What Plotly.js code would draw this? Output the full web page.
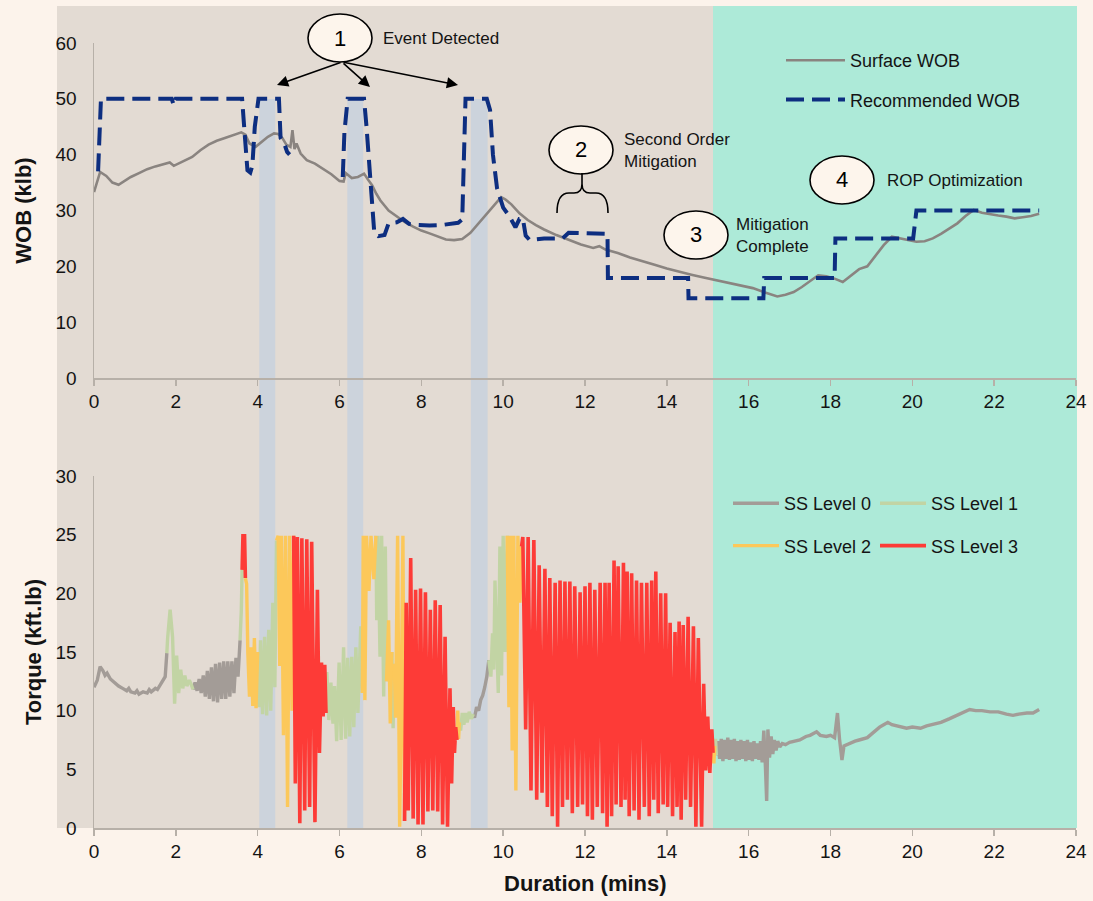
<!DOCTYPE html>
<html><head><meta charset="utf-8">
<script src="https://cdn.plot.ly/plotly-3.0.1.min.js"></script>
<style>html,body{margin:0;padding:0;background:#FCF3EB;}#chart{width:1093px;height:901px;}</style>
</head><body><div id="chart"></div>
<script>
// ---------------- DATA ----------------
const xTicks = [0,2,4,6,8,10,12,14,16,18,20,22,24];

const wobTime = [0,0.05,0.15,0.3,0.45,0.6,0.75,0.9,1.1,1.3,1.5,1.7,1.85,1.95,2.05,2.2,2.4,2.6,2.8,3.0,3.2,3.4,3.6,3.7,3.8,3.95,4.1,4.25,4.4,4.5,4.6,4.7,4.8,4.85,4.9,4.95,5.05,5.2,5.4,5.6,5.8,6.0,6.1,6.15,6.3,6.45,6.6,6.7,6.8,6.9,7.0,7.2,7.4,7.6,7.8,8.0,8.2,8.4,8.6,8.8,9.0,9.2,9.4,9.6,9.8,9.95,10.05,10.2,10.4,10.6,10.8,11.0,11.3,11.6,11.9,12.2,12.35,12.5,12.8,13.1,13.4,13.7,14.0,14.3,14.6,14.9,15.2,15.5,15.8,16.1,16.4,16.7,16.9,17.1,17.3,17.5,17.7,17.9,18.1,18.3,18.5,18.7,18.9,19.1,19.3,19.5,19.7,19.9,20.1,20.3,20.5,20.7,20.9,21.1,21.3,21.5,21.7,21.9,22.1,22.3,22.5,22.7,22.9,23.1];
const surfaceWob = [33.3,34.5,36.9,36.2,35.0,34.6,35.3,36.0,36.7,37.4,37.9,38.3,38.6,38.0,38.4,38.9,39.6,40.8,41.8,42.5,43.0,43.5,44.0,43.6,42.0,41.4,42.3,43.2,43.8,43.7,43.0,41.8,41.4,44.4,41.0,42.0,40.2,39.0,38.4,37.5,36.5,35.3,35.2,36.7,35.8,36.0,36.6,35.5,34.5,33.0,31.8,30.0,28.9,27.9,27.1,26.4,25.9,25.3,24.8,24.7,24.9,26.0,27.7,29.5,31.2,32.4,32.0,31.1,29.5,28.3,27.4,26.6,25.6,24.7,23.9,23.3,23.6,23.0,22.4,21.6,21.0,20.3,19.6,19.0,18.5,18.0,17.5,17.0,16.6,16.1,15.3,14.6,14.9,15.4,16.3,17.4,18.4,18.2,17.8,17.2,18.4,19.5,20.0,21.9,23.8,25.3,25.0,24.7,24.4,24.5,25.0,25.8,26.7,27.7,29.0,30.1,29.6,29.3,29.1,28.9,28.6,28.8,29.0,29.4];

const recTime = [0.1,0.14,0.17,1.9,1.95,2.0,3.62,3.68,3.75,3.82,3.87,3.93,4.02,4.52,4.56,4.65,4.72,4.78,5.0,6.08,6.12,6.2,6.6,6.66,6.75,6.85,6.95,7.1,7.2,7.4,7.55,7.7,7.9,8.2,8.5,8.9,9.0,9.03,9.08,9.6,9.68,9.75,9.85,10.0,10.15,10.3,10.4,10.48,10.55,10.65,11.0,11.45,11.6,12.55,12.56,14.52,14.53,16.36,16.38,18.1,18.12,20.02,20.1,23.1];
const recWob  = [37,45,50,50,48.8,50,50,44,37.2,36.8,38,45,50,50,43,42,40.5,40,null,36,44,50,50,45,35,26,25.4,25.6,27.7,27.9,28.5,27.6,27.4,27.3,27.4,27.8,28.4,40,50,50,48,40,34,30.5,29,27,28.5,28.6,25.5,24.7,25,25,26,25.8,17.9,17.9,14.3,14.3,17.9,17.9,25,25,30,30];

// Torque (kft.lb) vs duration (mins), split by stick-slip level; [null,null] separates segments
const ssLevel0 = [
 [0,12.0],[0.08,12.6],[0.15,13.75],[0.22,13.4],[0.27,13.0],[0.32,13.2],[0.4,12.7],[0.5,12.4],[0.6,12.1],[0.7,11.9],[0.8,11.7],[0.85,11.9],[0.9,11.6],[1.0,11.5],[1.05,11.7],[1.1,11.4],[1.2,11.6],[1.3,11.5],[1.35,11.8],[1.4,11.6],[1.5,11.9],[1.55,11.8],[1.6,12.1],[1.68,12.6],[1.74,12.9],[1.78,14.9],
 [null,null],
 [2.42,11.8],[2.47,12.4],[2.52,11.7],[2.57,12.7],[2.62,11.5],[2.67,13.0],[2.72,11.2],[2.77,13.4],[2.82,11.0],[2.87,13.7],[2.92,10.8],[2.97,14.0],[3.02,10.7],[3.07,14.1],[3.12,11.0],[3.17,14.2],[3.22,11.0],[3.27,14.2],[3.32,11.2],[3.37,14.2],[3.42,11.5],[3.47,14.5],[3.52,12.9],[3.57,16.0],
 [null,null],
 [9.27,9.7],[9.3,9.4],[9.35,10.3],[9.4,10.0],[9.45,10.9],[9.5,11.3],[9.55,12.0],[9.6,12.9],[9.65,14.3],
 [null,null],
 [15.21,6.2],[15.25,7.4],[15.29,5.9],[15.33,7.6],[15.37,5.7],[15.41,7.5],[15.45,5.9],[15.49,7.7],[15.53,5.8],[15.57,7.5],[15.61,5.9],[15.65,7.6],[15.69,5.7],[15.73,7.4],[15.77,5.8],[15.81,7.5],[15.85,5.9],[15.89,7.4],[15.93,5.7],[15.97,7.5],[16.01,5.8],[16.05,7.3],[16.09,5.7],[16.13,7.4],[16.17,5.9],[16.21,7.2],[16.25,5.8],[16.29,7.4],[16.33,5.6],[16.37,8.3],[16.41,5.2],[16.44,2.3],[16.47,8.4],[16.51,6.0],[16.55,7.8],[16.59,6.3],[16.63,7.5],[16.67,6.6],[16.71,7.4],[16.76,6.9],[16.82,7.2],[16.9,7.1],[17.0,7.3],[17.1,7.4],[17.25,7.5],[17.4,7.8],[17.5,7.9],[17.66,8.2],[17.75,7.9],[17.9,7.8],[18.0,7.9],[18.1,7.7],[18.17,9.8],[18.22,7.6],[18.28,5.8],[18.33,7.0],[18.4,7.1],[18.5,7.3],[18.6,7.4],[18.7,7.5],[18.8,7.6],[18.9,7.7],[19.0,8.0],[19.1,8.3],[19.2,8.6],[19.3,8.8],[19.4,9.0],[19.5,8.8],[19.6,8.7],[19.7,8.6],[19.86,8.5],[20.0,8.6],[20.2,8.5],[20.35,8.7],[20.5,8.8],[20.7,9.0],[20.9,9.3],[21.1,9.6],[21.25,9.8],[21.4,10.1],[21.55,10.0],[21.7,10.0],[21.9,9.9],[22.1,9.9],[22.3,9.7],[22.46,9.6],[22.6,9.7],[22.8,9.8],[22.95,9.8],[23.1,10.1]
];
const ssLevel1 = [
 [1.78,14.9],[1.8,16.2],[1.86,18.6],[1.92,16.3],[1.97,10.6],[2.02,14.7],[2.07,11.5],[2.12,13.5],[2.17,11.9],[2.22,13.0],[2.27,12.1],[2.33,12.6],[2.38,12.2],[2.42,11.8],
 [null,null],
 [3.57,16.0],[3.6,18.5],[3.62,22.0],
 [null,null],
 [4.0,15.0],[4.03,10.3],[4.07,16.0],[4.12,9.7],[4.17,16.3],[4.22,9.6],[4.27,16.9],[4.32,10.0],[4.37,19.2],[4.42,12.0],[4.46,24.5],
 [null,null],
 [5.67,9.8],[5.69,13.3],[5.74,9.2],[5.79,12.4],[5.84,8.9],[5.88,12.1],[5.93,7.4],[5.99,14.1],[6.04,7.5],[6.1,15.4],[6.15,7.6],[6.2,14.5],[6.25,7.8],[6.3,14.6],[6.35,8.6],[6.4,15.4],[6.45,9.8],[6.52,17.2],[6.56,11.5],
 [null,null],
 [6.89,24.9],[6.91,17.7],[6.94,24.9],[6.99,14.6],[7.03,24.9],[7.08,11.2],[7.12,24.0],[7.15,12.5],
 [null,null],
 [7.28,15.0],[7.31,8.5],[7.34,14.0],
 [null,null],
 [8.93,9.0],[8.96,8.3],[9.0,9.8],[9.04,8.8],[9.08,9.8],[9.12,9.0],[9.17,9.9],[9.22,9.3],[9.27,9.7],
 [null,null],
 [9.65,14.3],[9.7,12.9],[9.74,16.6],[9.77,13.5],[9.8,21.1],[9.84,15.5],[9.88,11.5],[9.92,24.0],[9.96,13.0],[10.0,24.9],[10.05,15.0],[10.1,24.9],
 [null,null],
 [15.17,7.0],[15.19,7.6],[15.21,6.2]
];
const ssLevel2 = [
 [3.7,21.3],[3.73,20.8],[3.76,14.9],[3.8,11.2],[3.84,15.4],[3.88,10.4],[3.92,16.2],[3.96,10.2],[4.0,15.0],
 [null,null],
 [4.46,24.5],[4.5,24.9],[4.54,13.8],[4.58,24.9],[4.63,7.9],[4.68,24.9],[4.73,1.8],[4.78,24.9],[4.84,10.0],[4.88,24.9],
 [null,null],
 [6.56,11.5],[6.58,24.9],[6.62,10.9],[6.66,24.9],[6.72,20.2],[6.77,24.9],[6.84,21.2],[6.89,24.9],
 [null,null],
 [7.15,12.5],[7.2,17.7],[7.24,8.9],[7.28,15.0],
 [null,null],
 [7.34,14.0],[7.37,9.4],[7.42,24.9],[7.47,0.1],[7.5,8.0],[7.55,24.9],[7.59,0.6],
 [null,null],
 [8.87,7.5],[8.89,10.0],[8.91,7.6],[8.93,9.0],
 [null,null],
 [10.1,24.9],[10.14,10.3],[10.18,24.9],[10.22,6.6],[10.26,24.9],[10.31,3.2],[10.36,24.9],[10.41,19.2],[10.45,24.0],
 [null,null],
 [15.13,6.4],[15.15,5.5],[15.17,7.0]
];
const ssLevel3 = [
 [3.62,22.0],[3.64,24.9],[3.68,24.9],[3.7,21.3],
 [null,null],
 [4.88,24.9],[4.92,3.8],[4.97,24.8],[5.03,0.4],[5.08,24.7],[5.15,1.5],[5.2,24.6],[5.27,1.8],[5.32,24.4],[5.4,0.5],[5.46,20.3],[5.51,6.4],[5.56,14.1],[5.6,9.5],[5.64,13.9],[5.67,9.8],
 [null,null],
 [7.59,0.6],[7.63,19.2],[7.68,1.5],[7.74,23.0],[7.8,0.8],[7.86,20.3],[7.92,0.3],[7.98,20.4],[8.04,0.3],[8.1,20.1],[8.16,1.4],[8.22,18.6],[8.28,1.5],[8.34,19.4],[8.4,1.4],[8.46,19.0],[8.52,0.3],[8.58,16.3],[8.64,0.1],[8.7,11.9],[8.74,3.8],[8.78,10.3],[8.81,6.4],[8.84,8.6],[8.87,7.5],
 [null,null],
 [10.45,24.0],[10.48,24.8],[10.55,8.4],[10.61,24.8],[10.68,3.2],[10.75,24.55],[10.82,2.4],[10.88,22.4],[10.95,3.0],[11.02,22.1],[11.08,1.8],[11.14,21.3],[11.2,1.0],[11.27,20.9],[11.33,0.1],[11.39,21.1],[11.45,1.8],[11.51,21.0],[11.57,2.4],[11.63,21.0],[11.69,1.25],[11.75,20.6],[11.82,1.8],[11.88,20.1],[11.94,2.0],[12.0,20.6],[12.06,1.0],[12.12,20.9],[12.18,0.7],[12.24,20.3],[12.3,1.8],[12.37,20.9],[12.43,1.25],[12.49,20.9],[12.54,0.1],[12.59,20.9],[12.65,1.0],[12.71,22.8],[12.76,2.0],[12.81,22.3],[12.88,1.8],[12.94,22.6],[12.98,2.4],[13.03,21.85],[13.08,1.0],[13.14,21.7],[13.2,1.5],[13.26,21.1],[13.32,0.7],[13.38,20.9],[13.45,1.8],[13.51,20.9],[13.57,1.0],[13.63,21.1],[13.68,2.4],[13.73,21.85],[13.79,1.25],[13.85,20.0],[13.91,2.0],[13.97,20.0],[14.02,1.8],[14.08,17.5],[14.14,1.0],[14.2,16.7],[14.25,1.8],[14.3,17.6],[14.35,0.7],[14.4,17.3],[14.46,2.4],[14.52,18.0],[14.58,1.8],[14.65,17.2],[14.71,0.1],[14.77,16.2],[14.85,0.1],[14.9,12.3],[14.95,4.9],[15.0,9.5],[15.05,4.7],[15.1,8.4],[15.13,6.4]
];

// shaded event windows (mins)
const eventWindows = [[4.04,4.43],[6.19,6.58],[9.21,9.62]];

// ---------------- LAYOUT HELPERS ----------------
const W = 1093, H = 901, ML = 94, MR = 17, MT = 43, MB = 73;
const PW = W - ML - MR, PH = H - MT - MB;
const fx = px => (px - ML) / PW;
const fy = py => (H - MB - py) / PH;
const P = (px, py) => fx(px).toFixed(5) + ',' + fy(py).toFixed(5);
const FONT = 'Liberation Sans, Arial, Helvetica, sans-serif';
const TXT = '#141414';
const AX = '#B7B0A8';

const col = (arr, i) => arr.map(p => p[i]);

const traces = [
  {x: wobTime, y: surfaceWob, type: 'scatter', mode: 'lines', name: 'Surface WOB',
   line: {color: '#8A8480', width: 2.6}, xaxis: 'x', yaxis: 'y', legend: 'legend', legendgroup: 'a'},
  {x: recTime, y: recWob, type: 'scatter', mode: 'lines', name: 'Recommended WOB',
   line: {color: '#0D2E80', width: 4, dash: '18px,8px'}, xaxis: 'x', yaxis: 'y', legend: 'legend', legendgroup: 'b'},
  {x: col(ssLevel0,0), y: col(ssLevel0,1), type: 'scatter', mode: 'lines', name: 'SS Level 0',
   line: {color: '#A39C97', width: 3.4}, xaxis: 'x2', yaxis: 'y2', legend: 'legend2', legendgroup: 'c'},
  {x: col(ssLevel1,0), y: col(ssLevel1,1), type: 'scatter', mode: 'lines', name: 'SS Level 1',
   line: {color: '#C2D4A4', width: 3.4}, xaxis: 'x2', yaxis: 'y2', legend: 'legend3', legendgroup: 'd'},
  {x: col(ssLevel2,0), y: col(ssLevel2,1), type: 'scatter', mode: 'lines', name: 'SS Level 2',
   line: {color: '#FCC85A', width: 3.4}, xaxis: 'x2', yaxis: 'y2', legend: 'legend2', legendgroup: 'e'},
  {x: col(ssLevel3,0), y: col(ssLevel3,1), type: 'scatter', mode: 'lines', name: 'SS Level 3',
   line: {color: '#FD3B37', width: 3.6}, xaxis: 'x2', yaxis: 'y2', legend: 'legend3', legendgroup: 'f'}
];

const shapes = [
  {type: 'rect', xref: 'paper', yref: 'paper', x0: fx(57), x1: fx(713), y0: fy(828), y1: fy(6),
   fillcolor: '#E3DBD3', line: {width: 0}, layer: 'below'},
  {type: 'rect', xref: 'paper', yref: 'paper', x0: fx(713), x1: fx(1077), y0: fy(828), y1: fy(6),
   fillcolor: '#ADEAD8', line: {width: 0}, layer: 'below'}
];
eventWindows.forEach(w => shapes.push({type: 'rect', xref: 'x', yref: 'paper', x0: w[0], x1: w[1],
  y0: 0, y1: fy(99), fillcolor: '#CCD3DC', line: {width: 0}, layer: 'below'}));

const circles = [[340,38,'1'],[581,150,'2'],[696,235,'3'],[842,180,'4']];
circles.forEach(c => shapes.push({type: 'circle', xref: 'paper', yref: 'paper',
  x0: fx(c[0]-32), x1: fx(c[0]+32), y0: fy(c[1]+24), y1: fy(c[1]-24),
  fillcolor: '#FDF5EC', line: {color: '#000', width: 1.6}, layer: 'above'}));

shapes.push({type: 'path', xref: 'paper', yref: 'paper', layer: 'above',
  path: 'M' + P(557,213) + ' Q' + P(557,193) + ' ' + P(569,193) + ' L' + P(574,193) +
        ' Q' + P(582,193) + ' ' + P(582,184) + ' L' + P(582,173) +
        ' M' + P(582,184) + ' Q' + P(582,193) + ' ' + P(590,193) + ' L' + P(596,193) +
        ' Q' + P(608,193) + ' ' + P(608,213),
  line: {color: '#000', width: 1.6}});

const annotations = [];
circles.forEach(c => annotations.push({xref: 'paper', yref: 'paper', x: fx(c[0]), y: fy(c[1]),
  xanchor: 'center', yanchor: 'middle',
  text: c[2], showarrow: false, font: {size: 22, color: '#000', family: FONT}}));
const labels = [
  [381, 38, 'Event Detected'],
  [622, 151, 'Second Order<br>Mitigation'],
  [734, 236, 'Mitigation<br>Complete'],
  [885, 181, 'ROP Optimization']
];
labels.forEach(l => annotations.push({xref: 'paper', yref: 'paper', x: fx(l[0]), y: fy(l[1]),
  xanchor: 'left', yanchor: 'middle', align: 'left', text: l[2], showarrow: false,
  font: {size: 17, color: TXT, family: FONT}}));
[[277,85],[370,87],[458,85]].forEach(a => annotations.push({xref: 'paper', yref: 'paper',
  x: fx(a[0]), y: fy(a[1]), ax: 342 - a[0], ay: 62 - a[1], text: '', showarrow: true,
  arrowhead: 2, arrowsize: 1.4, arrowwidth: 1.6, arrowcolor: '#000', standoff: 0, startstandoff: 0}));

annotations.push({xref: 'paper', yref: 'paper', x: 0.5, y: fy(883), text: 'Duration (mins)',
  showarrow: false, font: {size: 22, color: TXT, family: FONT, weight: 'bold'}, xanchor: 'center', yanchor: 'middle'});

const xBase = {range: [0, 24], tickvals: xTicks, ticktext: xTicks.map(String), ticks: 'outside', ticklen: 6,
  tickwidth: 1.5, tickcolor: AX, showline: true, linecolor: AX, linewidth: 1.5, showgrid: false,
  zeroline: false, tickfont: {size: 19, color: TXT, family: FONT}, ticklabelstandoff: 0, fixedrange: true};
const yBase = {showline: true, linecolor: AX, linewidth: 1.5, showgrid: false, zeroline: false, ticks: '',
  tickfont: {size: 19, color: TXT, family: FONT}, ticklabelstandoff: 12, fixedrange: true};

const legBase = {xanchor: 'left', yanchor: 'top', bgcolor: 'rgba(0,0,0,0)', borderwidth: 0,
  font: {size: 18, color: TXT, family: FONT}, traceorder: 'grouped', orientation: 'v'};

const layout = {
  width: W, height: H,
  margin: {l: ML, r: MR, t: MT, b: MB, pad: 0, autoexpand: false},
  paper_bgcolor: '#FCF3EB', plot_bgcolor: 'rgba(0,0,0,0)',
  font: {family: FONT, color: TXT},
  showlegend: true,
  xaxis: Object.assign({}, xBase, {anchor: 'y', domain: [0, 1]}),
  xaxis2: Object.assign({}, xBase, {anchor: 'y2', domain: [0, 1]}),
  yaxis: Object.assign({}, yBase, {anchor: 'x', domain: [fy(378), 1], range: [0, 60],
    tickvals: [0,10,20,30,40,50,60],
    title: {text: 'WOB (klb)', standoff: 18, font: {size: 22, color: TXT, family: FONT, weight: 'bold'}}}),
  yaxis2: Object.assign({}, yBase, {anchor: 'x2', domain: [0, fy(476)], range: [0, 30],
    tickvals: [0,5,10,15,20,25,30],
    title: {text: 'Torque (kft.lb)', standoff: 8, font: {size: 22, color: TXT, family: FONT, weight: 'bold'}}}),
  legend: Object.assign({}, legBase, {x: fx(781), y: fy(42), itemwidth: 59, tracegroupgap: 13}),
  legend2: Object.assign({}, legBase, {x: fx(728), y: fy(485), itemwidth: 46, tracegroupgap: 16}),
  legend3: Object.assign({}, legBase, {x: fx(875), y: fy(485), itemwidth: 46, tracegroupgap: 16}),
  shapes: shapes,
  annotations: annotations,
  hovermode: false
};

Plotly.newPlot('chart', traces, layout, {staticPlot: true, displayModeBar: false});
</script></body></html>
